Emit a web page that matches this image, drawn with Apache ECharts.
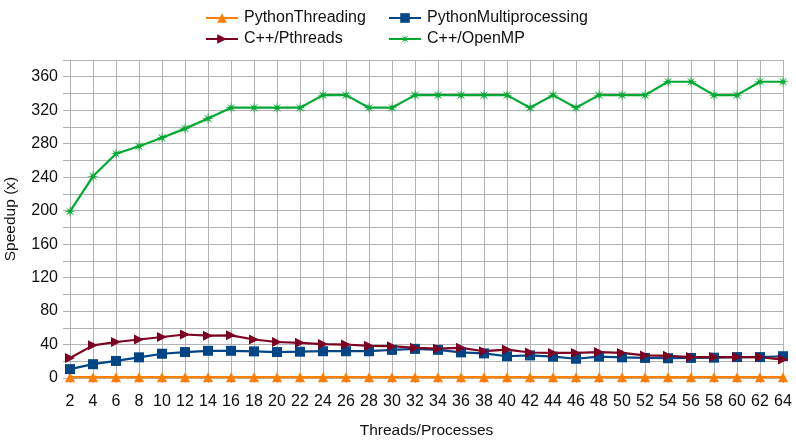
<!DOCTYPE html>
<html>
<head>
<meta charset="utf-8">
<title>Speedup</title>
<script src="https://cdn.jsdelivr.net/npm/echarts@6/dist/echarts.min.js"></script>
<style>
  html, body { margin: 0; padding: 0; background: #fff; }
  #main { width: 796px; height: 442px; }
</style>
</head>
<body>
<div id="main"></div>
<script>
// thread / process counts
var threads = ['2','4','6','8','10','12','14','16','18','20','22','24','26','28','30','32',
  '34','36','38','40','42','44','46','48','50','52','54','56','58','60','62','64'];

var pythonThreading = [1,1,1,1,1,1,1,1,1,1,1,1,1,1,1,1,1,1,1,1,1,1,1,1,1,1,1,1,1,1,1,1];
var pythonMultiprocessing = [10.6,16.5,20.4,24.7,29,31,32.5,32.5,31.8,31,31.4,32,32,32,33.6,34.8,
  33.6,30.6,29.4,26,27,25.5,23,25.5,24.7,24,23.6,24,24.3,25,25,26];
var cppPthreads = [24,39,43,46,49,52,50.6,51,46,43,42,40.5,40,38.5,38,36,
  35,36,32,34,30.5,30,30,31,30,27,26.5,25,25,25,25,22];
var cppOpenMP = [199,241,268,277,287,298,310,323,323,323,323,338,338,323,323,338,
  338,338,338,338,323,338,323,338,338,338,354,354,338,338,354,354];

var gridColor = '#b3b3b3';
var starPath = 'path://M10,5 L6.29,5.54 L8.54,8.54 L5.54,6.29 L5,10 L4.46,6.29 L1.46,8.54 L3.71,5.54 L0,5 L3.71,4.46 L1.46,1.46 L4.46,3.71 L5,0 L5.54,3.71 L8.54,1.46 L6.29,4.46 Z';

var myChart = echarts.init(document.getElementById('main'));

var legendText = { fontFamily: 'Liberation Sans', fontSize: 16, color: '#111', padding: [0, 0, 0, 1] };

function line(name, data, color, symbol, size) {
  return {
    name: name,
    type: 'line',
    data: data,
    symbol: symbol,
    symbolSize: size,
    showAllSymbol: true,
    lineStyle: { color: color, width: 2.2 },
    itemStyle: { color: color },
    animation: false
  };
}

var option = {
  backgroundColor: '#fff',
  legend: [{
    orient: 'vertical',
    left: 200, top: 5,
    itemWidth: 32, itemHeight: 12, itemGap: 5,
    textStyle: legendText,
    data: ['PythonThreading', 'C++/Pthreads']
  }, {
    orient: 'vertical',
    left: 383, top: 5,
    itemWidth: 32, itemHeight: 12, itemGap: 5,
    textStyle: legendText,
    data: ['PythonMultiprocessing', 'C++/OpenMP']
  }],
  grid: { left: 70, right: 13, top: 60, bottom: 64, containLabel: false, outerBoundsMode: 'none' },
  xAxis: {
    type: 'category',
    boundaryGap: false,
    data: threads,
    name: 'Threads/Processes',
    nameLocation: 'middle',
    nameGap: 45,
    nameTextStyle: { fontFamily: 'Liberation Sans', fontSize: 15.5, color: '#111' },
    axisLine: { lineStyle: { color: gridColor } },
    axisTick: { show: true, length: 5, lineStyle: { color: gridColor } },
    axisLabel: { interval: 0, fontFamily: 'Liberation Sans', fontSize: 16, color: '#111', margin: 16 },
    splitLine: { show: true, lineStyle: { color: gridColor, width: 1 } }
  },
  yAxis: {
    type: 'value',
    min: 0, max: 380, interval: 20,
    name: 'Speedup (x)',
    nameLocation: 'middle',
    nameGap: 51,
    nameTextStyle: { fontFamily: 'Liberation Sans', fontSize: 15.5, color: '#111' },
    axisLine: { show: true, lineStyle: { color: gridColor } },
    axisTick: { show: true, length: 7, lineStyle: { color: gridColor } },
    axisLabel: {
      fontFamily: 'Liberation Sans', fontSize: 16, color: '#111', margin: 12,
      formatter: function (v) { return v % 40 === 0 && v <= 360 ? v : ''; }
    },
    splitLine: { show: true, lineStyle: { color: gridColor, width: 1 } }
  },
  series: [
    line('PythonThreading', pythonThreading, '#ff8000', 'triangle', 10),
    line('PythonMultiprocessing', pythonMultiprocessing, '#004586', 'rect', 10),
    line('C++/Pthreads', cppPthreads, '#7e0021', 'path://M0,0 L10,5 L0,10 Z', 10),
    line('C++/OpenMP', cppOpenMP, '#00a933', starPath, 12)
  ]
};

myChart.setOption(option);
</script>
</body>
</html>
